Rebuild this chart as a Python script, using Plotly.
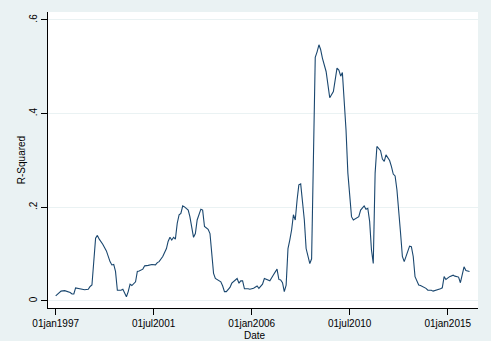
import plotly.graph_objects as go

dates = [
    "1997-01", "1997-04", "1997-06", "1997-09", "1997-10", "1997-11", "1997-12",
    "1998-02", "1998-05", "1998-07", "1998-08", "1998-09", "1998-11", "1998-12",
    "1999-01", "1999-03", "1999-05", "1999-07", "1999-08", "1999-09", "1999-10", "1999-11",
    "2000-01", "2000-02", "2000-03", "2000-04", "2000-05", "2000-06", "2000-07", "2000-09",
    "2000-10", "2000-11", "2001-01", "2001-02", "2001-04", "2001-06", "2001-08", "2001-09",
    "2001-10", "2001-12", "2002-02", "2002-03", "2002-04", "2002-05", "2002-06", "2002-07",
    "2002-08", "2002-09", "2002-10", "2002-11", "2002-12", "2003-02", "2003-03", "2003-04",
    "2003-05", "2003-06", "2003-07", "2003-09", "2003-10", "2003-11", "2003-12", "2004-01",
    "2004-02", "2004-03", "2004-04", "2004-05", "2004-06", "2004-08", "2004-09", "2004-10",
    "2004-11", "2005-01", "2005-02", "2005-04", "2005-05", "2005-06", "2005-07", "2005-08",
    "2005-09", "2005-11", "2005-12", "2006-02", "2006-04", "2006-05", "2006-07", "2006-08",
    "2006-10", "2006-11", "2007-01", "2007-03", "2007-04", "2007-05", "2007-06", "2007-07",
    "2007-08", "2007-09", "2007-10", "2007-11", "2007-12", "2008-01", "2008-02", "2008-03",
    "2008-04", "2008-05", "2008-06", "2008-07", "2008-09", "2008-10", "2008-11", "2008-12",
    "2009-01", "2009-02", "2009-03", "2009-04", "2009-06", "2009-07", "2009-08", "2009-10",
    "2009-11", "2009-12", "2010-01", "2010-02", "2010-03", "2010-04", "2010-05", "2010-06",
    "2010-07", "2010-08", "2010-09", "2010-11", "2010-12", "2011-01", "2011-02", "2011-03",
    "2011-04", "2011-05", "2011-06", "2011-07", "2011-08", "2011-09", "2011-10", "2011-12",
    "2012-01", "2012-02", "2012-03", "2012-05", "2012-06", "2012-07", "2012-08", "2012-09",
    "2012-11", "2012-12", "2013-01", "2013-02", "2013-04", "2013-05", "2013-06", "2013-07",
    "2013-09", "2013-10", "2013-11", "2014-01", "2014-02", "2014-04", "2014-05", "2014-07",
    "2014-09", "2014-10", "2014-11", "2014-12", "2015-02", "2015-04", "2015-05", "2015-07",
    "2015-08", "2015-10", "2015-11", "2016-01",
]

r_squared = [
    0.011, 0.021, 0.022, 0.018, 0.015, 0.015, 0.028,
    0.026, 0.024, 0.025, 0.031, 0.034, 0.134, 0.140,
    0.132, 0.121, 0.107, 0.084, 0.077, 0.078, 0.063, 0.023,
    0.023, 0.025, 0.016, 0.009, 0.020, 0.036, 0.033, 0.041,
    0.063, 0.064, 0.068, 0.075, 0.076, 0.078, 0.077, 0.082,
    0.084, 0.095, 0.112, 0.127, 0.136, 0.130, 0.136, 0.132,
    0.166, 0.184, 0.187, 0.203, 0.201, 0.194, 0.180, 0.155,
    0.136, 0.144, 0.173, 0.196, 0.194, 0.159, 0.155, 0.153,
    0.144, 0.105, 0.059, 0.048, 0.045, 0.041, 0.032, 0.020,
    0.020, 0.029, 0.038, 0.046, 0.048, 0.038, 0.043, 0.043,
    0.026, 0.026, 0.025, 0.027, 0.032, 0.027, 0.036, 0.048,
    0.045, 0.043, 0.056, 0.068, 0.046, 0.045, 0.039, 0.020,
    0.034, 0.112, 0.130, 0.152, 0.184, 0.173, 0.216, 0.248,
    0.250, 0.216, 0.173, 0.112, 0.080, 0.090, 0.300, 0.520,
    0.532, 0.547, 0.537, 0.518, 0.490, 0.458, 0.434, 0.447,
    0.472, 0.497, 0.493, 0.480, 0.488, 0.436, 0.365, 0.273,
    0.216, 0.180, 0.173, 0.177, 0.180, 0.194, 0.200, 0.203,
    0.196, 0.198, 0.170, 0.110, 0.080, 0.273, 0.330, 0.321,
    0.303, 0.298, 0.312, 0.300, 0.287, 0.271, 0.267, 0.237,
    0.144, 0.095, 0.084, 0.095, 0.117, 0.116, 0.095, 0.052,
    0.034, 0.033, 0.031, 0.027, 0.023, 0.023, 0.021, 0.023,
    0.026, 0.028, 0.052, 0.046, 0.052, 0.055, 0.053, 0.051,
    0.039, 0.073, 0.065, 0.063,
]

x_tick_vals = ["1997-01-01", "2001-07-01", "2006-01-01", "2010-07-01", "2015-01-01"]
x_tick_text = ["01jan1997", "01jul2001", "01jan2006", "01jul2010", "01jan2015"]
y_tick_vals = [0, 0.2, 0.4, 0.6]
y_tick_text = ["0", ".2", ".4", ".6"]
x_title = "Date"
y_title = "R-Squared"

font_family = "Liberation Sans Narrow, Liberation Sans, Arial, sans-serif"

fig = go.Figure(
    go.Scatter(
        x=dates,
        y=r_squared,
        mode="lines",
        line=dict(color="#1a476f", width=1.1),
        showlegend=False,
    )
)

fig.update_layout(
    width=491,
    height=341,
    margin=dict(l=48, r=13, t=12, b=33),
    paper_bgcolor="#eaf2f3",
    plot_bgcolor="#ffffff",
    font=dict(family=font_family, size=10, color="#000000"),
)

fig.update_xaxes(
    range=["1996-08-25", "2016-05-22"],
    tickmode="array",
    tickvals=x_tick_vals,
    ticktext=x_tick_text,
    ticks="outside",
    ticklen=6,
    tickcolor="#000000",
    ticklabelstandoff=0,
    automargin=False,
    showline=True,
    linecolor="#000000",
    linewidth=1,
    showgrid=False,
    zeroline=False,
)

fig.add_annotation(
    text=x_title,
    xref="paper",
    yref="paper",
    x=(255 - 48) / 430,
    y=-27 / 296,
    xanchor="center",
    yanchor="middle",
    showarrow=False,
    font=dict(size=10, color="#000000"),
)

fig.update_yaxes(
    range=[-0.015, 0.617],
    tickmode="array",
    tickvals=y_tick_vals,
    ticktext=y_tick_text,
    tickangle=-90,
    ticks="outside",
    ticklen=6,
    tickcolor="#000000",
    showline=True,
    linecolor="#000000",
    linewidth=1,
    showgrid=True,
    gridcolor="#eaf2f3",
    gridwidth=1,
    zeroline=False,
    title=dict(text=y_title, standoff=0, font=dict(size=10)),
)

fig.write_html("out.html")
